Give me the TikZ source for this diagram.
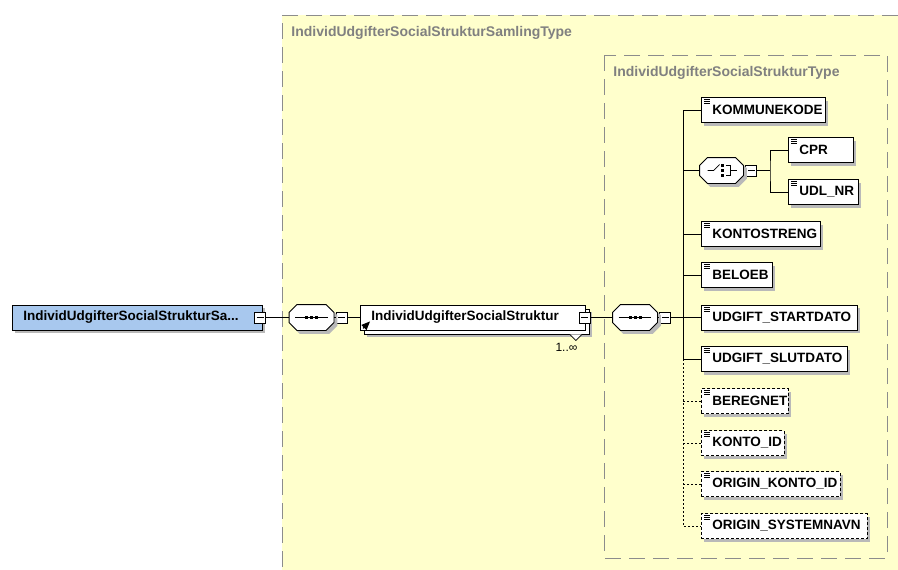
\documentclass[tikz,border=0pt]{standalone}
\usepackage{fontspec}
\setmainfont{Liberation Sans}
\usetikzlibrary{arrows}
\usetikzlibrary{positioning, shadows}
\definecolor{typefill}{RGB}{255,255,204}
\definecolor{rootfill}{RGB}{168,200,238}
\definecolor{typeline}{RGB}{140,140,140}
\definecolor{typetext}{RGB}{128,128,128}
\definecolor{shade}{RGB}{185,185,185}

\tikzset{
  shaded/.style={drop shadow={shadow xshift=3pt, shadow yshift=-3pt, fill=shade, opacity=1}},
  xsdbox/.style={draw, fill=white, anchor=west, inner sep=0pt, minimum height=25pt, text width=#1,
    font=\bfseries\fontsize{13.5}{16}\selectfont,
    execute at begin node={\hbox\bgroup\hspace*{11pt}}, execute at end node={\egroup}},
  elem/.style={xsdbox=#1, shaded, path picture={
      \foreach \k in {2,4,6}
        \draw[solid, line width=0.6pt] ([xshift=3pt, yshift=-\k pt]path picture bounding box.north west) -- ++(6pt,0);}},
  optelem/.style={elem=#1, dash pattern=on 3pt off 2pt},
  compositor/.style={minimum width=44pt, minimum height=25pt, inner sep=0pt},
  minus/.style={draw, fill=white, minimum size=11pt, inner sep=0pt, line width=0.7pt,
    path picture={\draw ([xshift=2pt]path picture bounding box.west) -- ([xshift=-2pt]path picture bounding box.east);}},
  optline/.style={dash pattern=on 2pt off 2pt},
  typeborder/.style={typeline, dash pattern=on 16pt off 8pt, line width=0.8pt},
  typetitle/.style={anchor=west, inner sep=0pt, text=typetext, font=\bfseries\fontsize{14}{16}\selectfont}
}

\begin{document}
\begin{tikzpicture}[x=1pt, y=-1pt, line width=0.9pt]
  \useasboundingbox (0,0) rectangle (898,570);

  % type areas
  \fill[typefill] (282,15) rectangle (898,570);
  \draw[typeborder] (898,15) -| (282,570);
  \draw[typeborder] (604,55) rectangle (887,558);
  \node[typetitle] (samlingType) at (291,33) {IndividUdgifterSocialStrukturSamlingType};
  \node[typetitle] (strukturType) at (613,73) {IndividUdgifterSocialStrukturType};

  % root and outer sequence
  \node[xsdbox=250pt, fill=rootfill, shaded] (root) at (12,317.5) {IndividUdgifterSocialStrukturSa...};
  \node[minus] (rootMinus) at (260,317.5) {};
  \node[compositor] (seqOuter) at (311.5,317.5) {};
  \node[minus, right=2pt of seqOuter] (seqOuterMinus) {};

  \node[xsdbox=225pt, drop shadow={shadow xshift=7pt, shadow yshift=-7pt, fill=shade, opacity=1},
    copy shadow={shadow xshift=4pt, shadow yshift=-4pt, fill=white, draw=black}] (struktur) at (360,317.5) {IndividUdgifterSocialStruktur};
  \node[minus] (strukturMinus) at ([xshift=-1pt]struktur.east) {};
  \draw[fill=white, line width=0.7pt] ([xshift=-16pt, yshift=-4pt]struktur.south east) -- ++(6pt,-6pt) -- ++(6pt,6pt);
  \node[anchor=north east, inner sep=0pt, font=\fontsize{12}{14}\selectfont] (strukturCard) at ([xshift=-8pt, yshift=-12pt]struktur.south east) {1..∞};
  \draw[-triangle 45, line width=1pt] ([xshift=3pt, yshift=2pt]struktur.south west) -- ++(7pt,7pt);

  % inner sequence
  \node[compositor] (seqInner) at (635,317.5) {};
  \node[minus, right=2pt of seqInner] (seqInnerMinus) {};
  \coordinate (trunk) at (683,317.5);

  % children
  \node[elem=124pt] (kommunekode) at (701,110) {KOMMUNEKODE};
  \node[compositor, minimum width=43pt] (choice) at (721.5,170.5) {};
  \node[minus, right=2pt of choice] (choiceMinus) {};
  \coordinate (fork) at (770,170.5);
  \node[elem=65pt] (cpr) at (788,150) {CPR};
  \node[elem=70pt] (udlnr) at (788,192) {UDL\_NR};
  \node[elem=119pt] (kontostreng) at (701,234) {KONTOSTRENG};
  \node[elem=71pt] (beloeb) at (701,275) {BELOEB};
  \node[elem=156pt] (startdato) at (701,317.5) {UDGIFT\_STARTDATO};
  \node[elem=146pt] (slutdato) at (701,359) {UDGIFT\_SLUTDATO};
  \node[optelem=87pt] (beregnet) at (701,401) {BEREGNET};
  \node[optelem=83pt] (kontoid) at (701,443) {KONTO\_ID};
  \node[optelem=139pt] (originkonto) at (701,484) {ORIGIN\_KONTO\_ID};
  \node[optelem=166pt] (systemnavn) at (701,526) {ORIGIN\_SYSTEMNAVN};

  % compositor outlines with shadow
  \foreach \s in {seqOuter, seqInner, choice}
    \foreach \d/\f/\l in {3/shade/shade, 0/white/black}
      \filldraw[fill=\f, draw=\l]
        ([xshift=\d pt+8pt, yshift=-\d pt]\s.north west) -- ([xshift=\d pt-8pt, yshift=-\d pt]\s.north east)
        -- ([xshift=\d pt, yshift=-\d pt-8pt]\s.north east) -- ([xshift=\d pt, yshift=-\d pt+8pt]\s.south east)
        -- ([xshift=\d pt-8pt, yshift=-\d pt]\s.south east) -- ([xshift=\d pt+8pt, yshift=-\d pt]\s.south west)
        -- ([xshift=\d pt, yshift=-\d pt+8pt]\s.south west) -- ([xshift=\d pt, yshift=-\d pt-8pt]\s.north west) -- cycle;

  \foreach \s in {seqOuter, seqInner} {
    \draw ([xshift=6pt]\s.west) -- ([xshift=-6pt]\s.east);
    \foreach \k in {-5,0,5}
      \fill ([xshift=\k pt]\s.center) +(-1.5pt,-1.5pt) rectangle +(1.5pt,1.5pt);
  }

  % choice symbol
  \draw[line width=0.7pt] ([xshift=-14pt]choice.center) -- ++(6pt,0) -- ++(6pt,6pt);
  \foreach \k in {-5,0,5}
    \fill ([xshift=1pt, yshift=\k pt]choice.center) +(-1.3pt,-1.3pt) rectangle +(1.3pt,1.3pt);
  \draw[line width=0.7pt] ([xshift=4pt, yshift=5pt]choice.center) -- ++(5pt,0) -- ++(0,-10pt) -- ++(-5pt,0);
  \draw[line width=0.7pt] ([xshift=9pt]choice.center) -- ++(6pt,0);

  % connectors
  \draw (rootMinus) -- (seqOuter);
  \draw (seqOuter) -- (seqOuterMinus) -- (struktur);
  \draw (strukturMinus) -- (seqInner);
  \draw (seqInner) -- (seqInnerMinus) -- (trunk);
  \draw (kommunekode.west) -| (slutdato.west -| trunk) -- (slutdato.west);
  \foreach \n in {choice, kontostreng, beloeb, startdato}
    \draw (\n.west) -- (\n.west -| trunk);
  \draw[optline] (slutdato.west -| trunk) |- (systemnavn.west);
  \foreach \n in {beregnet, kontoid, originkonto}
    \draw[optline] (\n.west) -- (\n.west -| trunk);
  \draw (choiceMinus) -- (fork);
  \draw (cpr.west) -| (fork) |- (udlnr.west);
\end{tikzpicture}
\end{document}
